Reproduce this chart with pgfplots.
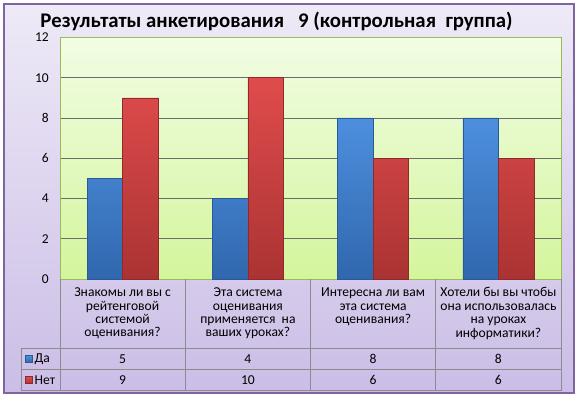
\documentclass[border=0pt]{standalone}
\usepackage{fontspec}
\setmainfont{Carlito}
\usepackage{pgfplots}
\pgfplotsset{compat=1.18}
\definecolor{frameTop}{HTML}{EEEAF7}
\definecolor{frameBot}{HTML}{CBBDE6}
\definecolor{frameBorder}{HTML}{8064A2}
\definecolor{plotTop}{HTML}{F1FDE4}
\definecolor{plotBot}{HTML}{D4F59C}
\definecolor{plotBorder}{HTML}{9BBB59}
\definecolor{blueTop}{HTML}{4D8FDE}
\definecolor{blueBot}{HTML}{3067AD}
\definecolor{blueEdge}{HTML}{2A5A96}
\definecolor{redTop}{HTML}{E04C4C}
\definecolor{redBot}{HTML}{AB3333}
\definecolor{redEdge}{HTML}{8E2A2A}
\definecolor{tblLine}{HTML}{8C8C8C}
\pgfplotstableread{
x da net
0 5 9
1 4 10
2 8 6
3 8 6
}\datatbl
\begin{document}
\begin{tikzpicture}[x=1pt,y=1pt]
\path[use as bounding box] (0,0) rectangle (578,397);
\shade[top color=frameTop, bottom color=frameBot] (4,4) rectangle (574,393);
\draw[frameBorder, line width=1.3pt] (4,4) rectangle (574,393);
\node[font=\fontsize{20.8}{24}\selectfont\bfseries, anchor=base, inner sep=0pt] at (276.5,369.5) {Результаты\ анкетирования\ \ \ 9 (контрольная\ \ группа)};
\begin{axis}[
  at={(60pt,118pt)}, anchor=south west,
  scale only axis, width=501pt, height=241.5pt,
  ymin=0, ymax=12, ytick={0,2,...,12},
  xmin=-0.5, xmax=3.5, xtick=\empty,
  ybar=0pt, bar width=35.5pt,
  ymajorgrids, grid style={draw=gray!85!black, line width=0.8pt},
  major tick length=0pt,
  axis line style={draw=plotBorder, line width=1pt},
  axis background/.style={shade, top color=plotTop, bottom color=plotBot},
  yticklabel style={font=\fontsize{13.5}{15}\selectfont, inner sep=0.5pt, xshift=-10.5pt},
  /pgf/number format/assume math mode=true,
  clip=false,
]
\addplot[draw=blueEdge, line width=0.6pt, top color=blueTop, bottom color=blueBot] table[x=x, y=da] {\datatbl};
\addplot[draw=redEdge, line width=0.6pt, top color=redTop, bottom color=redBot] table[x=x, y=net] {\datatbl};
\end{axis}
% data table lines
\begin{scope}[tblLine, line width=0.8pt]
\draw (21,49) -- (561,49);
\draw (21,27.5) -- (561,27.5);
\draw (21,6.5) -- (561,6.5);
\draw (21,49) -- (21,6.5);
\foreach \xx in {60,185.25,310.5,435.75,561} {\draw (\xx,118) -- (\xx,6.5);}
\end{scope}
\begin{scope}[every node/.style={font=\fontsize{13.6}{13.4}\selectfont, align=center, anchor=center}]
\node at (122.6,83.5) {Знакомы ли вы с\\рейтенговой\\системой\\оценивания?};
\node at (247.9,83.5) {Эта система\\оценивания\\применяется\ \ на\\ваших уроках?};
\node at (373.1,90) {Интересна ли вам\\эта система\\оценивания?};
\node at (498.4,83.5) {Хотели бы вы чтобы\\она использовалась\\на уроках\\информатики?};
\foreach \xx/\v in {122.6/5,247.9/4,373.1/8,498.4/8} {\node at (\xx,38) {\v};}
\foreach \xx/\v in {122.6/9,247.9/10,373.1/6,498.4/6} {\node at (\xx,17) {\v};}
\shade[top color=blueTop, bottom color=blueBot, draw=blueEdge, line width=0.4pt] (25.5,34.5) rectangle (32.5,41.5);
\shade[top color=redTop, bottom color=redBot, draw=redEdge, line width=0.4pt] (25.5,13.5) rectangle (32.5,20.5);
\node[anchor=west, inner sep=1pt] at (33.5,38) {Да};
\node[anchor=west, inner sep=1pt] at (33.5,17) {Нет};
\end{scope}
\end{tikzpicture}
\end{document}
